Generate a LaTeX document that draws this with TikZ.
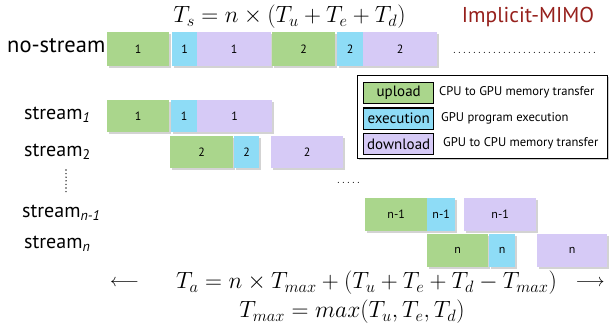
\RequirePackage{fix-cm}
\documentclass[tikz,border=0pt]{standalone}
\usepackage{fontspec}
\setsansfont{PT Sans}
\usetikzlibrary{shadows}
\definecolor{upc}{RGB}{170,214,140}
\definecolor{exc}{RGB}{142,220,246}
\definecolor{dnc}{RGB}{214,202,246}
\definecolor{mimo}{RGB}{150,32,28}
\tikzset{
  seg/.style={anchor=north west, inner sep=0pt, font=\sffamily\fontsize{12}{12}\selectfont,
    drop shadow={shadow xshift=1.3pt, shadow yshift=-1.6pt, opacity=0.35}},
  up/.style={seg, fill=upc},
  ex/.style={seg, fill=exc},
  dn/.style={seg, fill=dnc},
  lbl/.style={anchor=west, inner sep=0pt, font=\sffamily\fontsize{20}{22}\selectfont},
  legbox/.style={anchor=north west, draw=black, line width=1.4pt, inner sep=0pt,
    minimum width=70pt, minimum height=21pt, font=\sffamily\fontsize{15}{15}\selectfont},
  legtxt/.style={anchor=west, inner sep=0pt, font=\sffamily\fontsize{12.6}{13}\selectfont},
  formula/.style={inner sep=0pt, font=\fontsize{23.5}{25}\selectfont},
  arr/.style={inner sep=0pt, font=\fontsize{18}{20}\selectfont},
  dotrow/.style={inner sep=0pt, font=\fontsize{12}{12}\selectfont},
  vdot/.style={circle, fill=black!80, inner sep=0pt, minimum size=1.6pt},
}
\begin{document}
\begin{tikzpicture}[x=1pt, y=-1pt]
\useasboundingbox (0,0) rectangle (611,329);
% top formula and title
\node[formula] (ts) at (289.5,17) {$T_s = n \times (T_u + T_e + T_d)$};
\node[anchor=center, inner sep=0pt, text=mimo, font=\sffamily\fontsize{21.5}{23}\selectfont] (title) at (528,17) {Implicit-MIMO};
% no-stream row
\node[lbl, font=\sffamily\fontsize{22.5}{24}\selectfont] (lns) at (7,46) {no-stream};
\node[up, minimum width=62pt, minimum height=34pt] (a1) at (107,32) {1};
\node[ex, minimum width=25pt, minimum height=34pt] (b1) at (172,32) {1};
\node[dn, minimum width=74pt, minimum height=34pt] (c1) at (197,32) {1};
\node[up, minimum width=63pt, minimum height=34pt] (a2) at (272,32) {2};
\node[ex, minimum width=26pt, minimum height=34pt] (b2) at (337,32) {2};
\node[dn, minimum width=74pt, minimum height=34pt] (c2) at (363,32) {2};
\node[dotrow] (dtop) at (526,53) {\hbox to 148pt{\leaders\hbox to 5pt{\hss.\hss}\hfil}};
% legend
\node[anchor=north west, draw=black, line width=1.2pt, fill=white, minimum width=250pt, minimum height=83pt, inner sep=0pt,
  drop shadow={shadow xshift=1.5pt, shadow yshift=-1.5pt, opacity=0.4}] (leg) at (357,75) {};
\node[legbox, fill=upc] (lu) at (363,82) {upload};
\node[legbox, fill=exc] (le) at (363,107.5) {execution};
\node[legbox, fill=dnc] (ld) at (363,133) {download};
\node[legtxt] (tu) at (439,92.5) {CPU to GPU memory transfer};
\node[legtxt] (te) at (441,118) {GPU program execution};
\node[legtxt] (td) at (443,143.5) {GPU to CPU memory transfer};
% stream 1
\node[lbl] (ls1) at (24,115) {stream\textsubscript{\itshape 1}};
\node[up, minimum width=62pt, minimum height=32pt] (s1a) at (107,100) {1};
\node[ex, minimum width=26pt, minimum height=32pt] (s1b) at (171,100) {1};
\node[dn, minimum width=75pt, minimum height=32pt] (s1c) at (197,100) {1};
% stream 2
\node[lbl] (ls2) at (24,152) {stream\textsubscript{2}};
\node[up, minimum width=63pt, minimum height=32pt] (s2a) at (170,136) {2};
\node[ex, minimum width=25pt, minimum height=32pt] (s2b) at (234,136) {2};
\node[dn, minimum width=72pt, minimum height=32pt] (s2c) at (271,136) {2};
% vertical dots
\foreach \i in {0,...,6} \node[vdot] (vd\i) at (66,{170+3.6*\i}) {};
% middle dots
\node[dotrow] (dmid) at (350,183) {\hbox to 28pt{\leaders\hbox to 5pt{\hss.\hss}\hfil}};
% stream n-1
\node[lbl] (lsn1) at (22,213) {stream\textsubscript{\itshape n-1}};
\node[up, minimum width=62pt, minimum height=33pt] (sn1a) at (365,198) {n-1};
\node[ex, minimum width=28pt, minimum height=33pt] (sn1b) at (427,198) {n-1};
\node[dn, minimum width=72pt, minimum height=33pt] (sn1c) at (464,198) {n-1};
% stream n
\node[lbl] (lsn) at (24,244) {stream\textsubscript{\itshape n}};
\node[up, minimum width=61pt, minimum height=33pt] (sna) at (427,234) {n};
\node[ex, minimum width=26pt, minimum height=33pt] (snb) at (489,234) {n};
\node[dn, minimum width=70pt, minimum height=33pt] (snc) at (537,234) {n};
% bottom formulas
\node[arr] (la) at (124.5,283) {$\longleftarrow$};
\node[formula] (ta) at (366.5,283) {$T_a = n \times T_{max} + (T_u + T_e + T_d - T_{max})$};
\node[arr] (ra) at (590,283) {$\longrightarrow$};
\node[formula] (tm) at (352,312) {$T_{max} = max(T_u, T_e, T_d)$};
\end{tikzpicture}
\end{document}
